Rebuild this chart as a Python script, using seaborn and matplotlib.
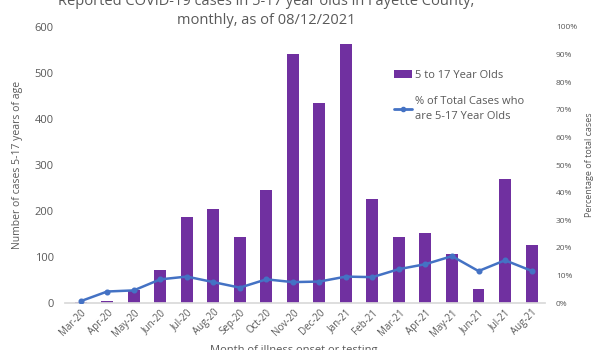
import matplotlib
matplotlib.use("Agg")
import matplotlib.pyplot as plt
import seaborn as sns
import pandas as pd
from matplotlib.patches import Patch
from matplotlib.lines import Line2D
from matplotlib.ticker import PercentFormatter

months = ["Mar-20", "Apr-20", "May-20", "Jun-20", "Jul-20", "Aug-20", "Sep-20", "Oct-20",
          "Nov-20", "Dec-20", "Jan-21", "Feb-21", "Mar-21", "Apr-21", "May-21", "Jun-21",
          "Jul-21", "Aug-21"]
cases = [2, 5, 28, 73, 186, 205, 143, 245, 541, 434, 563, 226, 144, 152, 107, 31, 270, 127]
pct = [0.7, 4.2, 4.6, 8.6, 9.6, 7.6, 5.6, 8.6, 7.6, 7.8, 9.6, 9.4, 12.3, 14.1, 17.0, 11.6, 15.5, 11.7]

bar_label = "5 to 17 Year Olds"
line_label = "% of Total Cases who\nare 5-17 Year Olds"
title = "Reported COVID-19 cases in 5-17 year olds in Fayette County,\nmonthly, as of 08/12/2021"
xlabel = "Month of illness onset or testing"
ylabel_left = "Number of cases 5-17 years of age"
ylabel_right = "Percentage of total cases"

df = pd.DataFrame({"month": months, "cases": cases, "pct": pct})

sns.set_theme(style="white")
plt.rcParams["font.family"] = ["Open Sans", "DejaVu Sans"]

BAR = "#7030A0"
LINE = "#4472C4"
TXT = "#595959"

fig = plt.figure(figsize=(6, 3.5), dpi=100)
ax = fig.add_axes([0.108, 0.134, 0.800, 0.789])

sns.barplot(data=df, x="month", y="cases", color=BAR, width=0.45, ax=ax,
            saturation=1, edgecolor="none")
ax.set_ylim(0, 600)
ax.set_yticks(range(0, 601, 100))
ax.set_xlim(-0.6, 17.5)

ax2 = ax.twinx()
sns.pointplot(data=df, x="month", y="pct", color=LINE, ax=ax2,
              markers="o", markersize=3, linewidth=1.8)
ax2.set_ylim(0, 100)
ax2.set_yticks(range(0, 101, 10))
ax2.yaxis.set_major_formatter(PercentFormatter(decimals=0))
ax2.set_xlim(-0.6, 17.5)

for a in (ax, ax2):
    for s in a.spines.values():
        s.set_visible(False)
    a.tick_params(axis="both", length=0, colors=TXT, labelsize=7)
ax.spines["bottom"].set_visible(True)
ax.spines["bottom"].set_color("#D9D9D9")
ax.tick_params(axis="y", labelsize=8, pad=8)
ax2.tick_params(axis="y", labelsize=6, pad=8)

ax.set_xticks(range(len(months)))
ax.set_xticklabels(months, rotation=45, ha="right", rotation_mode="anchor")
ax.tick_params(axis="x", pad=3)
ax.set_xlabel("")
ax.set_ylabel(ylabel_left, color=TXT, fontsize=7.5, labelpad=8)
ax2.set_ylabel(ylabel_right, color=TXT, fontsize=6.5, labelpad=6)

fig.text(0.443, 0.93, title, ha="center", va="baseline", fontsize=10.5,
         color=TXT, linespacing=1.45)
fig.text(0.49, 0.0, xlabel, ha="center", va="center", fontsize=8, color=TXT)

handles = [Patch(facecolor=BAR, edgecolor="none", label=bar_label),
           Line2D([0], [0], color=LINE, lw=2, marker="o", markersize=3, label=line_label)]
leg = ax.legend(handles=handles, loc="upper left", bbox_to_anchor=(0.665, 0.88),
                frameon=False, fontsize=8, handlelength=1.6, handletextpad=0.3,
                labelspacing=1.3, labelcolor=TXT)
for t in leg.get_texts():
    t.set_linespacing(1.5)

fig.savefig("out.png", dpi=100)
